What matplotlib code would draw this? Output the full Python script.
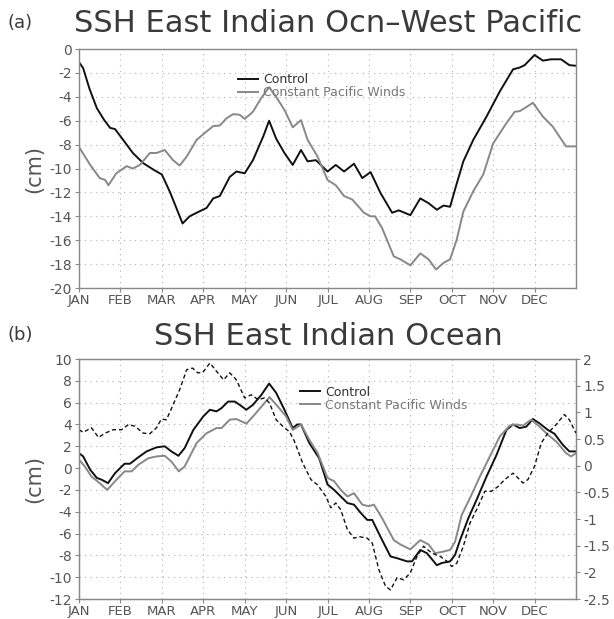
import matplotlib
matplotlib.use("Agg")
import matplotlib.pyplot as plt

months = ["JAN", "FEB", "MAR", "APR", "MAY", "JUN", "JUL", "AUG", "SEP", "OCT", "NOV", "DEC"]

# ---------------- Panel (a) ----------------
a_ctrl_t = [0, 0.1, 0.25, 0.43, 0.6, 0.75, 0.87, 1.0, 1.15, 1.3, 1.55, 1.8, 2.0, 2.2, 2.5, 2.67, 2.9, 3.08,
            3.24, 3.4, 3.64, 3.8, 4.0, 4.2, 4.45, 4.59, 4.76, 4.96, 5.16, 5.36, 5.52, 5.72, 6.0, 6.2,
            6.4, 6.64, 6.84, 7.04, 7.28, 7.56, 7.72, 8.0, 8.24, 8.44, 8.64, 8.8, 8.96, 9.1, 9.28,
            9.52, 9.84, 10.16, 10.48, 10.64, 10.76, 11.0, 11.2, 11.4, 11.64, 11.84, 12.0]
a_ctrl_v = [-1.1, -1.6, -3.3, -4.95, -5.9, -6.6, -6.7, -7.3, -8.0, -8.7, -9.55, -10.1, -10.5, -12.0, -14.6,
            -14.0, -13.6, -13.3, -12.5, -12.3, -10.7, -10.25, -10.4, -9.3, -7.3, -6.0, -7.5, -8.7,
            -9.7, -8.45, -9.4, -9.3, -10.25, -9.7, -10.25, -9.6, -10.8, -10.3, -12.05, -13.7, -13.5,
            -13.9, -12.5, -12.9, -13.45, -13.1, -13.2, -11.5, -9.4, -7.6, -5.65, -3.55, -1.7, -1.55,
            -1.35, -0.5, -0.97, -0.86, -0.86, -1.35, -1.4]

a_cpw_t = [0, 0.27, 0.5, 0.63, 0.71, 0.9, 1.15, 1.3, 1.47, 1.71, 1.87, 2.07, 2.27, 2.43, 2.6, 2.84, 3.08,
           3.24, 3.4, 3.56, 3.72, 3.88, 4.0, 4.2, 4.4, 4.59, 4.76, 4.96, 5.16, 5.36, 5.52, 5.76, 6.0,
           6.2, 6.4, 6.6, 6.88, 7.04, 7.15, 7.32, 7.6, 7.76, 8.0, 8.24, 8.44, 8.62, 8.8, 8.96, 9.12,
           9.28, 9.52, 9.76, 10.0, 10.32, 10.52, 10.64, 10.76, 10.96, 11.2, 11.44, 11.76, 12.0]
a_cpw_v = [-8.2, -9.7, -10.8, -10.95, -11.4, -10.4, -9.8, -10.0, -9.7, -8.7, -8.7, -8.45, -9.3, -9.75,
           -9.0, -7.6, -6.9, -6.45, -6.4, -5.8, -5.45, -5.5, -5.85, -5.25, -4.1, -3.2, -4.0, -5.1,
           -6.55, -5.95, -7.6, -9.0, -10.95, -11.4, -12.3, -12.6, -13.7, -14.0, -14.0, -15.0, -17.35,
           -17.6, -18.1, -17.1, -17.6, -18.45, -17.9, -17.6, -15.95, -13.6, -11.9, -10.5, -7.9,
           -6.2, -5.25, -5.2, -4.95, -4.5, -5.65, -6.5, -8.15, -8.15]

# ---------------- Panel (b) ----------------
b_ctrl_t = [0, 0.1, 0.27, 0.43, 0.55, 0.7, 0.87, 1.1, 1.23, 1.4, 1.63, 1.87, 2.07, 2.23, 2.4, 2.55, 2.76,
            3.0, 3.16, 3.32, 3.44, 3.6, 3.76, 3.88, 4.04, 4.2, 4.4, 4.59, 4.76, 4.96, 5.16, 5.27, 5.36,
            5.56, 5.8, 6.0, 6.16, 6.32, 6.48, 6.64, 6.8, 6.96, 7.08, 7.28, 7.52, 7.68, 7.92, 8.04,
            8.24, 8.4, 8.64, 8.76, 8.96, 9.08, 9.2, 9.4, 9.6, 9.84, 10.08, 10.32, 10.48, 10.64, 10.8,
            10.96, 11.12, 11.32, 11.48, 11.68, 11.84, 12.0]
b_ctrl_v = [1.37, 1.07, -0.15, -0.9, -1.07, -1.38, -0.46, 0.4, 0.4, 0.9, 1.53, 1.9, 2.0, 1.53, 1.13, 1.83,
            3.5, 4.74, 5.35, 5.2, 5.5, 6.1, 6.1, 5.8, 5.35, 5.8, 6.7, 7.75, 6.9, 5.35, 3.67, 4.0, 4.0,
            2.3, 0.9, -1.5, -2.0, -2.6, -3.2, -3.35, -4.1, -4.75, -4.75, -6.3, -8.1, -8.26, -8.55,
            -8.55, -7.5, -7.8, -8.9, -8.7, -8.55, -7.95, -6.6, -4.6, -2.9, -0.77, 1.2, 3.5, 4.0, 3.67,
            3.8, 4.5, 4.1, 3.5, 3.15, 2.14, 1.53, 1.53]

b_cpw_t = [0, 0.14, 0.3, 0.5, 0.68, 0.87, 1.1, 1.27, 1.43, 1.67, 1.87, 2.07, 2.23, 2.41, 2.55, 2.84, 3.08,
           3.32, 3.44, 3.64, 3.8, 4.04, 4.24, 4.44, 4.6, 4.8, 5.0, 5.16, 5.28, 5.36, 5.56, 5.76, 6.0,
           6.16, 6.32, 6.48, 6.64, 6.84, 7.0, 7.12, 7.32, 7.6, 7.76, 8.0, 8.24, 8.44, 8.6, 8.8, 8.96,
           9.08, 9.24, 9.44, 9.68, 9.92, 10.16, 10.4, 10.56, 10.72, 10.92, 11.12, 11.32, 11.52,
           11.76, 11.88, 12.0]
b_cpw_v = [0.77, 0.15, -0.77, -1.38, -2.0, -1.2, -0.3, -0.3, 0.3, 0.9, 1.07, 1.13, 0.6, -0.3, 0.15, 2.3,
           3.2, 3.67, 3.67, 4.44, 4.5, 4.07, 4.9, 5.8, 6.5, 5.65, 4.74, 3.5, 3.8, 4.0, 2.6, 1.4, -0.9,
           -1.2, -2.0, -2.6, -2.3, -3.35, -3.5, -3.35, -4.6, -6.6, -7.0, -7.45, -6.6, -7.0, -7.8,
           -7.65, -7.5, -6.75, -4.3, -2.75, -0.77, 1.07, 2.9, 3.9, 4.0, 3.9, 4.44, 3.8, 3.06, 2.45,
           1.37, 1.07, 1.37]

# dashed series on the right-hand axis
b_dash_t = [0, 0.1, 0.3, 0.47, 0.63, 0.83, 1.03, 1.19, 1.35, 1.55, 1.71, 1.87, 1.99, 2.11, 2.27, 2.43,
            2.6, 2.74, 2.87, 2.99, 3.16, 3.32, 3.49, 3.64, 3.8, 4.0, 4.16, 4.32, 4.48, 4.6, 4.76, 4.96,
            5.08, 5.2, 5.4, 5.6, 5.76, 5.96, 6.08, 6.2, 6.32, 6.48, 6.64, 6.76, 6.96, 7.08, 7.24, 7.4,
            7.52, 7.68, 7.84, 8.0, 8.16, 8.32, 8.52, 8.72, 8.88, 9.0, 9.12, 9.28, 9.44, 9.6, 9.8,
            9.96, 10.12, 10.28, 10.48, 10.6, 10.72, 10.84, 11.0, 11.16, 11.32, 11.52, 11.72, 11.84, 12.0]
b_dash_v = [0.675, 0.625, 0.71, 0.53, 0.61, 0.675, 0.675, 0.77, 0.74, 0.61, 0.6, 0.71, 0.875, 0.86, 1.14,
            1.425, 1.8, 1.83, 1.74, 1.75, 1.925, 1.77, 1.61, 1.74, 1.61, 1.27, 1.33, 1.24, 1.27, 1.175,
            0.86, 0.71, 0.64, 0.46, 0.05, -0.26, -0.36, -0.575, -0.79, -0.7, -0.825, -1.2, -1.36,
            -1.33, -1.36, -1.45, -1.95, -2.26, -2.33, -2.1, -2.14, -2.01, -1.7, -1.51, -1.64, -1.7,
            -1.79, -1.89, -1.83, -1.51, -1.075, -0.825, -0.48, -0.48, -0.39, -0.26, -0.14, -0.23,
            -0.325, -0.26, -0.01, 0.425, 0.61, 0.77, 0.96, 0.86, 0.61]

a_yticks = list(range(-20, 1, 2))
b_yticks = list(range(-12, 11, 2))
b_rticks = [-2.5, -2, -1.5, -1, -0.5, 0, 0.5, 1, 1.5, 2]

TXT = "#555555"
FRAME = "#888888"
GRID = "#b0b0b0"


def fmt(v):
    return ("-%g" % -v) if v < 0 else "%g" % v


fig = plt.figure(figsize=(6.14, 6.19), dpi=100)
axa = fig.add_axes([0.1287, 0.5347, 0.8094, 0.3861])
axb = fig.add_axes([0.1287, 0.0323, 0.8094, 0.3877])


def style(ax, yticks, ylim):
    ax.set_xlim(0, 12)
    ax.set_ylim(*ylim)
    ax.set_xticks(range(12))
    ax.set_xticklabels(months, fontsize=9.5)
    ax.set_yticks(yticks)
    ax.set_yticklabels([fmt(v) for v in yticks], fontsize=10)
    ax.grid(True, color=GRID, linestyle=(0, (1, 4)), linewidth=0.8)
    for s in ax.spines.values():
        s.set_color(FRAME)
        s.set_linewidth(1.0)
    ax.tick_params(axis="both", colors=FRAME, labelcolor=TXT, length=3, width=0.8)
    ax.tick_params(axis="x", pad=1)
    ax.tick_params(axis="y", pad=2)
    ax.set_ylabel("(cm)", fontsize=15, color=TXT, labelpad=4)


style(axa, a_yticks, (-20, 0))
axa.plot(a_ctrl_t, a_ctrl_v, color="#111111", lw=1.4, label="Control")
axa.plot(a_cpw_t, a_cpw_v, color="#888888", lw=1.4, label="Constant Pacific Winds")

style(axb, b_yticks, (-12, 10))
axb.plot(b_ctrl_t, b_ctrl_v, color="#111111", lw=1.4, label="Control")
axb.plot(b_cpw_t, b_cpw_v, color="#888888", lw=1.4, label="Constant Pacific Winds")
axr = axb.twinx()
axr.set_ylim(-2.5, 2)
axr.set_yticks(b_rticks)
axr.set_yticklabels([fmt(v) for v in b_rticks], fontsize=10)
axr.tick_params(axis="y", colors=FRAME, labelcolor=TXT, length=3, width=0.8, pad=2)
for s in axr.spines.values():
    s.set_color(FRAME)
axr.plot(b_dash_t, b_dash_v, color="#111111", lw=1.0, linestyle=(0, (3, 2)))

for ax in (axa, axb):
    leg = ax.legend(loc="upper left", bbox_to_anchor=(0.31, 0.92) if ax is axa else (0.435, 0.91),
                    frameon=False, fontsize=9, handlelength=1.6,
                    handletextpad=0.4, labelspacing=0.0, borderaxespad=0)
    for t, c in zip(leg.get_texts(), ["#333333", "#777777"]):
        t.set_color(c)

fig.text(0.013, 0.963, "(a)", fontsize=13, color="#3a3a3a", va="center", ha="left")
fig.text(0.534, 0.962, "SSH East Indian Ocn\u2013West Pacific", fontsize=22, color="#3a3a3a",
         va="center", ha="center")
fig.text(0.013, 0.459, "(b)", fontsize=13, color="#3a3a3a", va="center", ha="left")
fig.text(0.534, 0.457, "SSH East Indian Ocean", fontsize=22, color="#3a3a3a",
         va="center", ha="center")

fig.savefig("out.png", dpi=100)
